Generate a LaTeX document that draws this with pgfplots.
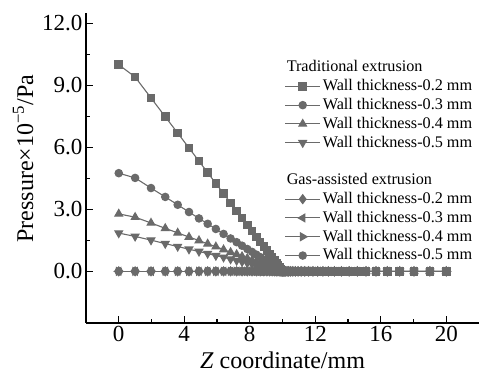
\documentclass[border=0pt]{standalone}
\usepackage{fontspec}
\setmainfont{Liberation Serif}
\usepackage{pgfplots}
\usepackage{pgfplotstable}
\pgfplotsset{compat=1.18}
\definecolor{lg}{HTML}{6A6A6A}

\pgfplotstableread{
x      t2    t3    t4    t5    g2 g3 g4 g5
0.00   10.00 4.75  2.78  1.85  0 0 0 0
1.00   9.40  4.52  2.62  1.69  0 0 0 0
1.97   8.39  4.03  2.34  1.51  0 0 0 0
2.84   7.48  3.60  2.08  1.34  0 0 0 0
3.60   6.69  3.22  1.86  1.20  0 0 0 0
4.29   5.97  2.87  1.66  1.07  0 0 0 0
4.90   5.33  2.56  1.49  0.96  0 0 0 0
5.43   4.78  2.30  1.33  0.86  0 0 0 0
5.93   4.25  2.05  1.19  0.76  0 0 0 0
6.40   3.76  1.81  1.05  0.68  0 0 0 0
6.83   3.31  1.59  0.92  0.59  0 0 0 0
7.20   2.93  1.41  0.82  0.52  0 0 0 0
7.53   2.58  1.24  0.72  0.46  0 0 0 0
7.85   2.25  1.08  0.63  0.40  0 0 0 0
8.14   1.95  0.94  0.54  0.35  0 0 0 0
8.40   1.67  0.81  0.47  0.30  0 0 0 0
8.64   1.42  0.69  0.40  0.25  0 0 0 0
8.86   1.19  0.57  0.33  0.21  0 0 0 0
9.05   1.00  0.48  0.28  0.18  0 0 0 0
9.22   0.82  0.39  0.23  0.15  0 0 0 0
9.37   0.66  0.32  0.18  0.12  0 0 0 0
9.50   0.53  0.25  0.15  0.09  0 0 0 0
9.62   0.40  0.19  0.11  0.07  0 0 0 0
9.72   0.30  0.14  0.08  0.05  0 0 0 0
9.81   0.20  0.10  0.06  0.04  0 0 0 0
9.89   0.12  0.06  0.03  0.02  0 0 0 0
9.95   0.06  0.03  0.02  0.01  0 0 0 0
10.00  0     0     0     0     0 0 0 0
10.05  0     0     0     0     0 0 0 0
10.11  0     0     0     0     0 0 0 0
10.19  0     0     0     0     0 0 0 0
10.28  0     0     0     0     0 0 0 0
10.38  0     0     0     0     0 0 0 0
10.50  0     0     0     0     0 0 0 0
10.63  0     0     0     0     0 0 0 0
10.78  0     0     0     0     0 0 0 0
10.95  0     0     0     0     0 0 0 0
11.14  0     0     0     0     0 0 0 0
11.36  0     0     0     0     0 0 0 0
11.60  0     0     0     0     0 0 0 0
11.86  0     0     0     0     0 0 0 0
12.15  0     0     0     0     0 0 0 0
12.47  0     0     0     0     0 0 0 0
12.80  0     0     0     0     0 0 0 0
13.17  0     0     0     0     0 0 0 0
13.60  0     0     0     0     0 0 0 0
14.07  0     0     0     0     0 0 0 0
14.57  0     0     0     0     0 0 0 0
15.10  0     0     0     0     0 0 0 0
15.71  0     0     0     0     0 0 0 0
16.40  0     0     0     0     0 0 0 0
17.16  0     0     0     0     0 0 0 0
18.03  0     0     0     0     0 0 0 0
19.00  0     0     0     0     0 0 0 0
20.00  0     0     0     0     0 0 0 0
}\datatab

\begin{document}
\begin{tikzpicture}
\begin{axis}[
  name=ax,
  scale only axis,
  width=393pt, height=310pt,
  xmin=-2, xmax=22, ymin=-2.5, ymax=12.5,
  axis x line=bottom, axis y line=left,
  axis line style={-, line width=1.3pt, black},
  tick align=inside,
  major tick length=7pt, minor tick length=4pt,
  tick style={line width=1.3pt, black},
  xtick={0,4,...,20}, ytick={0,3,...,12},
  minor tick num=1,
  /pgf/number format/assume math mode=true,
  yticklabel style={/pgf/number format/.cd, fixed, fixed zerofill, precision=1},
  ticklabel style={font=\fontsize{23}{23}\selectfont},
  xlabel={\textit{Z} coordinate/mm},
  ylabel={Pressure×10\textsuperscript{−5}/Pa},
  label style={font=\fontsize{24}{24}\selectfont},
  xlabel style={yshift=-3pt},
  ylabel style={at={(axis description cs:-0.16,0.53)}, anchor=center},
  every axis plot/.append style={lg, line width=1.1pt, mark size=3.7pt, mark options={solid, fill=lg, draw=lg}},
  legend image code/.code={\draw[mark repeat=2,mark phase=2] plot coordinates {(0pt,0pt) (17.5pt,0pt) (35pt,0pt)};},
  legend cell align=left,
  legend style={at={(axis description cs:0.505,0.855)}, anchor=north west, draw=none, fill=none,
    font=\fontsize{16.2}{18}\selectfont, row sep=0pt, inner sep=0pt,
    nodes={text height=11.8pt, text depth=3pt, inner sep=2pt}},
]
\addlegendimage{empty legend}
\addlegendentry{\hspace{-36pt}Traditional extrusion}
\addplot[mark=square*] table[x=x,y=t2]{\datatab};
\addlegendentry{Wall thickness-0.2 mm}
\addplot[mark=*] table[x=x,y=t3]{\datatab};
\addlegendentry{Wall thickness-0.3 mm}
\addplot[mark=triangle*, mark size=4.4pt] table[x=x,y=t4]{\datatab};
\addlegendentry{Wall thickness-0.4 mm}
\addplot[mark=triangle*, mark size=4.4pt, mark options={rotate=180}] table[x=x,y=t5]{\datatab};
\addlegendentry{Wall thickness-0.5 mm}
\addlegendimage{empty legend}
\addlegendentry{}
\addlegendimage{empty legend}
\addlegendentry{\hspace{-36pt}Gas-assisted extrusion}
\addplot[mark=diamond*, mark size=4.4pt] table[x=x,y=g2]{\datatab};
\addlegendentry{Wall thickness-0.2 mm}
\addplot[mark=triangle*, mark size=4.4pt, mark options={rotate=90}] table[x=x,y=g3]{\datatab};
\addlegendentry{Wall thickness-0.3 mm}
\addplot[mark=triangle*, mark size=4.4pt, mark options={rotate=-90}] table[x=x,y=g4]{\datatab};
\addlegendentry{Wall thickness-0.4 mm}
\addplot[mark=*] table[x=x,y=g5]{\datatab};
\addlegendentry{Wall thickness-0.5 mm}
\end{axis}
\pgfresetboundingbox
\useasboundingbox (ax.south west) ++(-86pt,-51pt) rectangle ++(479pt,374pt);
\end{tikzpicture}
\end{document}
